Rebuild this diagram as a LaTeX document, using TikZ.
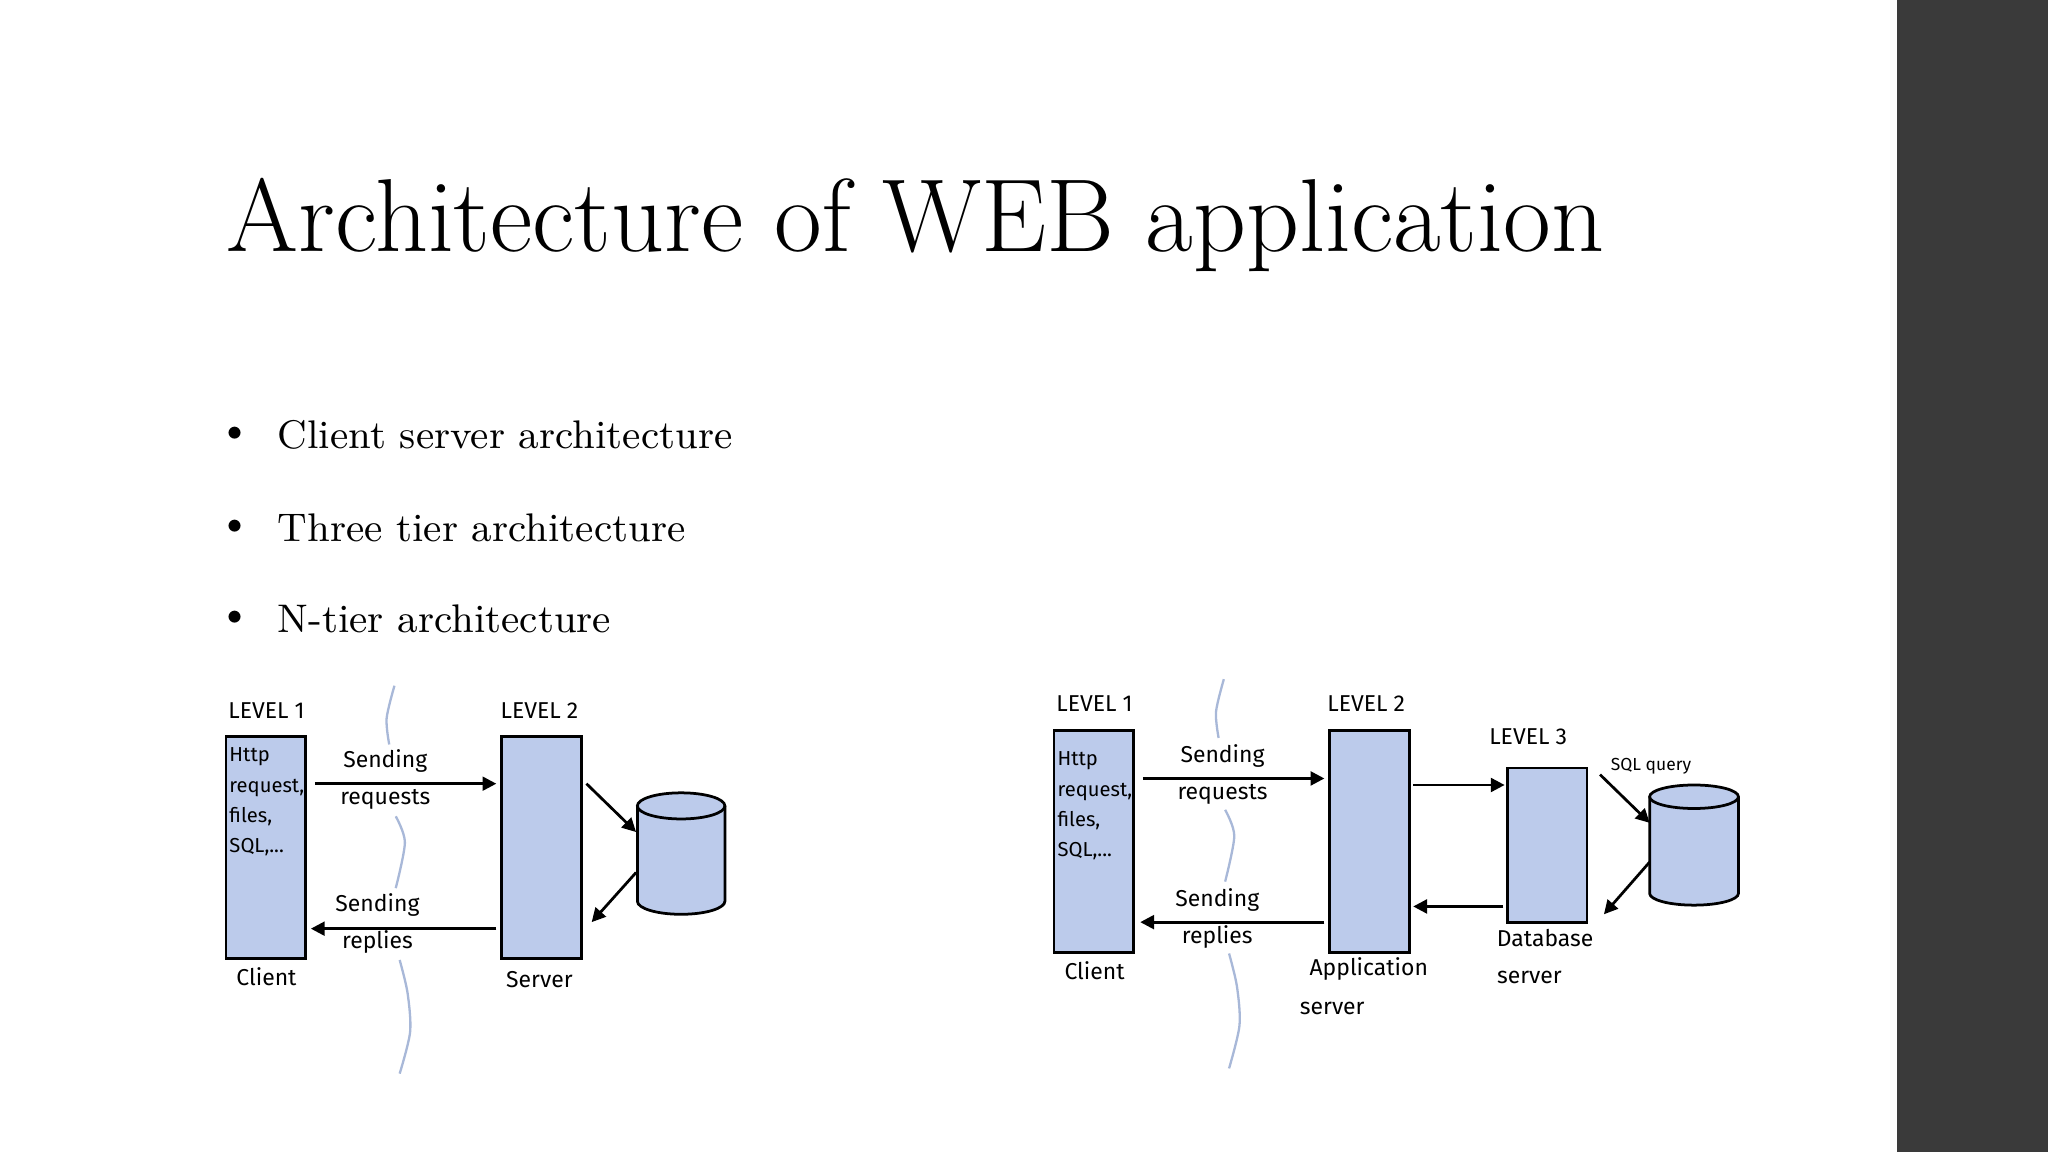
\documentclass[tikz,border=0pt]{standalone}
\usepackage{fontspec}
\setsansfont{Fira Sans}
\usetikzlibrary{shapes.geometric,arrows.meta}
\begin{document}
\begin{tikzpicture}[x=0.1mm,y=-0.1mm,
  tier/.style={draw=black,fill=boxblue,line width=0.6pt},
  lbl/.style={font=\sffamily\fontsize{5}{6}\selectfont,inner sep=0pt},
  small/.style={font=\sffamily\fontsize{4.4}{5.6}\selectfont,inner sep=0pt,align=left},
  conn/.style={-{Triangle[length=3pt,width=3pt]},line width=0.6pt},
  wavy/.style={draw=wavecol,line width=0.5pt},
  cylbody/.style={draw=black,fill=boxblue,line width=0.6pt},
  bul/.style={font=\fontsize{8.7}{10}\selectfont,anchor=west,inner sep=0pt}]
\definecolor{boxblue}{HTML}{BCCBEB}
\definecolor{wavecol}{HTML}{A8B8D8}
\definecolor{barcol}{HTML}{3A3A3A}
\useasboundingbox (0,0) rectangle (1568,882);
\fill[white] (0,0) rectangle (1568,882);
\fill[barcol] (1452,0) rectangle (1568,882);
\node[anchor=west,inner sep=0pt,font=\fontsize{22.6}{24}\selectfont] (title) at (173,172) {Architecture of WEB application};
\node[inner sep=0pt,font=\small] (b1) at (180,333) {\textbullet};
\node[bul] (t1) at (212,333) {Client server architecture};
\node[inner sep=0pt,font=\small] (b2) at (180,404) {\textbullet};
\node[bul] (t2) at (212,404) {Three tier architecture};
\node[inner sep=0pt,font=\small] (b3) at (180,474) {\textbullet};
\node[bul] (t3) at (212,474) {N-tier architecture};
% left diagram
\draw[wavy] plot[smooth] coordinates {(302,525) (296,550) (298,570)};
\draw[wavy] plot[smooth] coordinates {(303,625) (310,645) (303,680)};
\draw[wavy] plot[smooth] coordinates {(306,735) (312,760) (314,790) (306,822)};
\node[lbl] (l1) at (204,544) {LEVEL 1};
\node[tier,minimum width=6.1mm,minimum height=17mm,inner sep=0pt] (cl) at (203.5,649) {};
\node[small,anchor=north west] (clt) at (175,572) {Http\\[1pt]request,\\[1pt]files,\\[1pt]SQL,...};
\node[lbl] (clc) at (204,748) {Client};
\node[lbl] (l2) at (413,544) {LEVEL 2};
\node[tier,minimum width=6.1mm,minimum height=17mm,inner sep=0pt] (sv) at (414.5,649) {};
\node[lbl] (svc) at (413,750) {Server};
\coordinate (db1) at (521.5,617);
\draw[cylbody] (488,617) -- (488,690) arc[start angle=180,end angle=360,x radius=33.5,y radius=-10] -- (555,617);
\draw[cylbody] (db1) ellipse[x radius=33.5,y radius=10];
\coordinate (a1) at (241,600); \coordinate (a2) at (380,600);
\draw[conn] (a1) -- (a2);
\node[lbl,align=center] (sr1) at (295,597) {Sending\\[2pt]requests};
\coordinate (a3) at (380,711); \coordinate (a4) at (238,711);
\draw[conn] (a3) -- (a4);
\node[lbl,align=center] (rp1) at (289,707) {Sending\\[2pt]replies};
\coordinate (c1) at (449,600); \coordinate (c2) at (487,637);
\draw[conn] (c1) -- (c2);
\coordinate (c3) at (487,668); \coordinate (c4) at (453,706);
\draw[conn] (c3) -- (c4);
% right diagram
\draw[wavy] plot[smooth] coordinates {(937,520) (931,545) (933,565)};
\draw[wavy] plot[smooth] coordinates {(938,620) (945,640) (938,675)};
\draw[wavy] plot[smooth] coordinates {(941,730) (947,755) (949,785) (941,818)};
\node[lbl] (r1) at (838,539) {LEVEL 1};
\node[tier,minimum width=6.1mm,minimum height=17mm,inner sep=0pt] (rc) at (837.5,644) {};
\node[small,anchor=north west] (rct) at (809,575) {Http\\[1pt]request,\\[1pt]files,\\[1pt]SQL,...};
\node[lbl] (rcc) at (838,743) {Client};
\node[lbl] (r2) at (1046,539) {LEVEL 2};
\node[tier,minimum width=6.1mm,minimum height=17mm,inner sep=0pt] (ra) at (1048.5,644) {};
\node[lbl] (ra1) at (1048,742) {Application};
\node[lbl] (ra2) at (1020,772) {server};
\node[lbl] (r3) at (1170,564) {LEVEL 3};
\node[tier,minimum width=6.1mm,minimum height=11.8mm,inner sep=0pt] (rd) at (1184.5,647) {};
\node[lbl] (rd1) at (1183,718) {Database};
\node[lbl] (rd2) at (1171,748) {server};
\node[font=\sffamily\fontsize{3.8}{5}\selectfont,inner sep=0pt] (sq) at (1264,587) {SQL query};
\coordinate (db2) at (1297,610);
\draw[cylbody] (1263,610) -- (1263,684) arc[start angle=180,end angle=360,x radius=34,y radius=-9] -- (1331,610);
\draw[cylbody] (db2) ellipse[x radius=34,y radius=9];
\coordinate (d1) at (875,596); \coordinate (d2) at (1014,596);
\draw[conn] (d1) -- (d2);
\node[lbl,align=center] (sr2) at (936,593) {Sending\\[2pt]requests};
\coordinate (d3) at (1014,706); \coordinate (d4) at (873,706);
\draw[conn] (d3) -- (d4);
\node[lbl,align=center] (rp2) at (932,703) {Sending\\[2pt]replies};
\coordinate (e1) at (1082,601); \coordinate (e2) at (1152,601);
\draw[conn] (e1) -- (e2);
\coordinate (e3) at (1151,694); \coordinate (e4) at (1082,694);
\draw[conn] (e3) -- (e4);
\coordinate (f1) at (1225,593); \coordinate (f2) at (1263,630);
\draw[conn] (f1) -- (f2);
\coordinate (f3) at (1263,660); \coordinate (f4) at (1228,700);
\draw[conn] (f3) -- (f4);
\end{tikzpicture}
\end{document}
